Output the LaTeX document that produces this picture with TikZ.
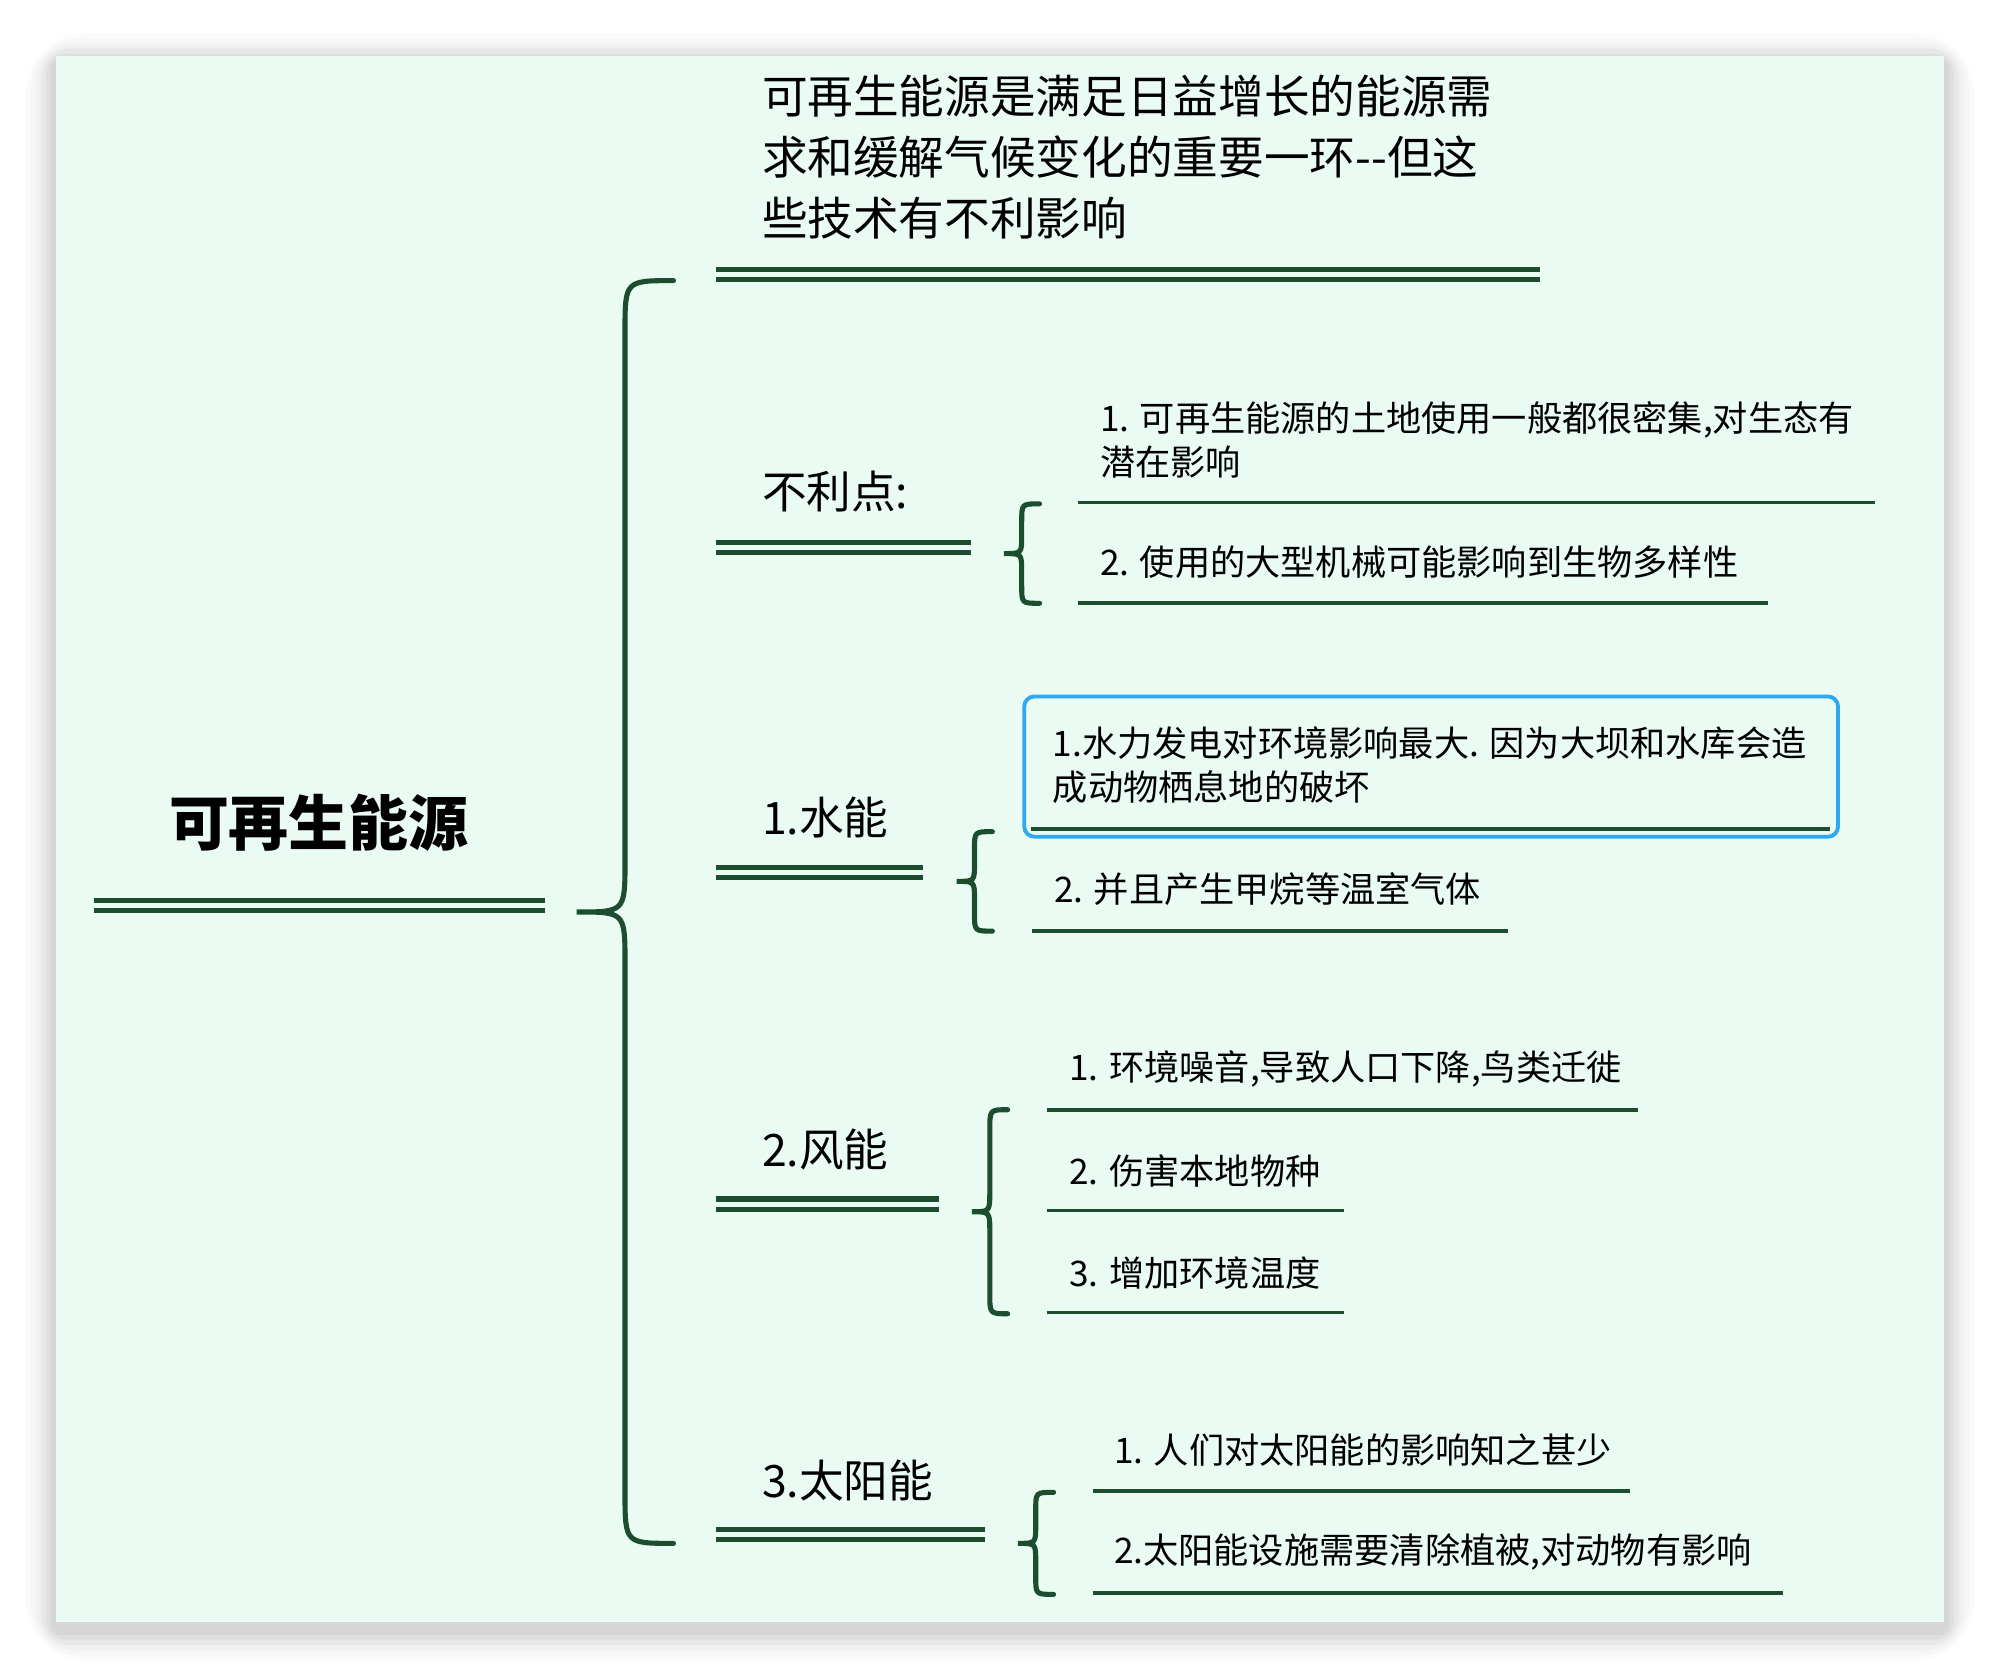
\documentclass[tikz,border=0pt]{standalone}
\usepackage{fontspec}
\setmainfont{Noto Sans CJK SC}
\definecolor{dg}{HTML}{1B4D2E}
\definecolor{bgm}{HTML}{EAFBF3}
\definecolor{bl}{HTML}{2EA8F0}
\newcommand{\mybrace}[7]{\draw[brc] (#3,#4) .. controls (#2,#4) .. (#2,#4+#7) -- (#2,#5-#7) .. controls (#2,#5) .. (#1,#5) .. controls (#2,#5) .. (#2,#5+#7) -- (#2,#6-#7) .. controls (#2,#6) .. (#3,#6);}
\tikzset{
 dbl/.style={draw=dg,line width=2pt},
 brc/.style={draw=dg,line width=2pt,line cap=round},
 itl/.style={draw=dg,line width=1.5pt},
 itm/.style={anchor=west,inner sep=0pt,font=\fontsize{13.8}{17.5}\selectfont,align=left,text=black},
 lab/.style={anchor=west,inner sep=0pt,font=\fontsize{17.5}{20}\selectfont,text=black}
}
\begin{document}
\begin{tikzpicture}[x=0.5pt,y=-0.5pt]
\useasboundingbox (0,0) rectangle (1568,1316);
\fill[white] (0,0) rectangle (1568,1316);
\foreach \i/\o in {24/0.015,20/0.02,16/0.025,12/0.03,8/0.035,4/0.04}{\fill[black,opacity=\o,rounded corners=\i] (44-\i,44-\i+6) rectangle (1524+\i,1272+\i+6);}
\fill[bgm] (44,44) rectangle (1524,1272);
% root
\node[anchor=center,inner sep=0pt,font=\fontsize{23.5}{26}\selectfont\bfseries] (root) at (250,645) {可再生能源};
\draw[dbl] (74,706) -- (427,706); \draw[dbl] (74,714) -- (427,714);
\mybrace{452}{490}{528}{220}{715}{1210}{40}
% top
\node[anchor=west,inner sep=0pt,font=\fontsize{17.9}{24}\selectfont,align=left] (top) at (597,123) {可再生能源是满足日益增长的能源需\\求和缓解气候变化的重要一环-{}-但这\\些技术有不利影响};
\draw[dbl] (561,211) -- (1207,211); \draw[dbl] (561,219) -- (1207,219);
% 不利点
\node[lab] (b) at (597,385) {不利点:};
\draw[dbl] (561,425) -- (761,425); \draw[dbl] (561,433) -- (761,433);
\mybrace{787}{801}{815}{395}{434}{473}{14}
\node[itm] (b1) at (862,345) {1. 可再生能源的土地使用一般都很密集,对生态有\\潜在影响};
\draw[itl] (845,394) -- (1470,394);
\node[itm] (b2) at (862,441) {2. 使用的大型机械可能影响到生物多样性};
\draw[itl] (845,473) -- (1386,473);
% 水能
\node[lab] (w) at (597,641) {1.水能};
\draw[dbl] (561,680) -- (724,680); \draw[dbl] (561,688) -- (724,688);
\mybrace{750}{764}{778}{652}{691}{730}{14}
\draw[bl,line width=1.5pt,rounded corners=4pt] (803,546) rectangle (1441,656);
\node[itm] (w1) at (825,600) {1.水力发电对环境影响最大. 因为大坝和水库会造\\成动物栖息地的破坏};
\draw[itl] (808,650) -- (1435,650);
\node[itm] (w2) at (826,697) {2. 并且产生甲烷等温室气体};
\draw[itl] (809,730) -- (1182,730);
% 风能
\node[lab] (f) at (597,901) {2.风能};
\draw[dbl] (561,940) -- (736,940); \draw[dbl] (561,948) -- (736,948);
\mybrace{762}{776}{790}{870}{950}{1030}{16}
\node[itm] (f1) at (838,838) {1. 环境噪音,导致人口下降,鸟类迁徙};
\draw[itl] (821,870) -- (1284,870);
\node[itm] (f2) at (838,918) {2. 伤害本地物种};
\draw[itl] (821,949) -- (1054,949);
\node[itm] (f3) at (838,998) {3. 增加环境温度};
\draw[itl] (821,1029) -- (1054,1029);
% 太阳能
\node[lab] (s) at (597,1161) {3.太阳能};
\draw[dbl] (561,1199) -- (772,1199); \draw[dbl] (561,1207) -- (772,1207);
\mybrace{798}{812}{826}{1170}{1210}{1250}{14}
\node[itm] (s1) at (873,1137) {1. 人们对太阳能的影响知之甚少};
\draw[itl] (857,1169) -- (1278,1169);
\node[itm] (s2) at (873,1217) {2.太阳能设施需要清除植被,对动物有影响};
\draw[itl] (857,1249) -- (1398,1249);
\end{tikzpicture}
\end{document}
